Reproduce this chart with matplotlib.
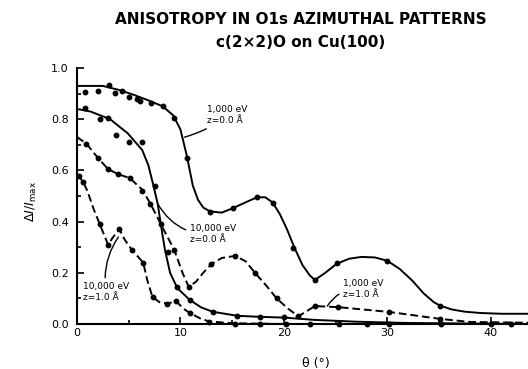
import matplotlib
matplotlib.use('Agg')
import matplotlib.pyplot as plt
from matplotlib.ticker import MultipleLocator, FormatStrFormatter


# 1,000 eV, z = 0.0 A : traced curve and measured points
a_curve_theta = [0, 2.5, 4, 5.5, 7, 8.3, 9.3, 10.0, 10.6, 11.2, 11.7, 12.2, 12.85, 14.0, 15.1, 16.4,
                 17.4, 18.2, 18.9, 19.6, 20.3, 21.0, 21.8, 22.5, 23.0, 24.0, 25.1, 26.3, 27.5, 28.8,
                 30.0, 31.2, 32.4, 33.5, 34.5, 35.1, 36.2, 37.5, 39.0, 41.0, 43.6]
a_curve_val = [0.93, 0.93, 0.915, 0.895, 0.872, 0.85, 0.815, 0.76, 0.66, 0.54, 0.485, 0.455, 0.44, 0.435,
               0.453, 0.477, 0.495, 0.495, 0.475, 0.43, 0.37, 0.30, 0.23, 0.19, 0.172, 0.20, 0.235, 0.255,
               0.262, 0.26, 0.247, 0.215, 0.17, 0.12, 0.085, 0.072, 0.057, 0.048, 0.043, 0.04, 0.04]
a_pts_theta = [0.8, 2.06, 3.1, 3.7, 4.35, 5.05, 5.8, 6.1, 7.2, 8.3, 9.4, 10.6, 12.85, 15.1, 17.4,
               18.9, 20.9, 23.0, 25.1, 30.0, 35.1]
a_pts_val = [0.905, 0.911, 0.934, 0.901, 0.912, 0.888, 0.88, 0.872, 0.864, 0.852, 0.803, 0.648, 0.4375,
             0.453, 0.496, 0.473, 0.297, 0.172, 0.238, 0.246, 0.07]

# 10,000 eV, z = 0.0 A
b_curve_theta = [0, 1.3, 3.2, 4.9, 6.3, 6.9, 7.3, 7.8, 8.1, 8.5, 9.0, 9.7, 10.9, 12.0, 13.1, 15.5,
                 17.7, 20.0, 23.0, 27.0, 32.0, 43.6]
b_curve_val = [0.84, 0.83, 0.80, 0.745, 0.68, 0.62, 0.555, 0.47, 0.39, 0.29, 0.20, 0.14, 0.094, 0.065,
               0.048, 0.032, 0.028, 0.025, 0.016, 0.009, 0.004, 0.0]
b_pts_theta = [0.8, 2.2, 3.0, 3.8, 5.0, 6.3, 7.5, 8.8, 9.7, 10.9, 13.1, 15.5, 17.7, 20.0]
b_pts_val = [0.845, 0.80, 0.805, 0.74, 0.71, 0.71, 0.54, 0.28, 0.145, 0.094, 0.047, 0.031, 0.027, 0.026]

# 1,000 eV, z = 1.0 A
c_curve_theta = [0, 0.9, 2.0, 3.0, 4.0, 5.1, 6.3, 7.1, 8.1, 9.4, 10.2, 10.8, 11.5, 12.2, 13.0, 14.0,
                 15.3, 16.3, 17.2, 18.3, 19.3, 20.4, 21.4, 22.2, 23.0, 25.2, 30.2, 35.1, 38.0, 43.6]
c_curve_val = [0.73, 0.705, 0.65, 0.605, 0.585, 0.57, 0.525, 0.47, 0.39, 0.29, 0.20, 0.145, 0.165, 0.20,
               0.234, 0.258, 0.266, 0.245, 0.20, 0.15, 0.10, 0.06, 0.03, 0.05, 0.07, 0.066, 0.047,
               0.02, 0.008, 0.005]
c_pts_theta = [0.9, 2.0, 3.0, 4.0, 5.1, 6.3, 7.1, 8.1, 9.4, 10.8, 13.0, 15.3, 17.2, 19.3, 21.4, 23.0,
               25.2, 30.2, 35.1]
c_pts_val = [0.705, 0.65, 0.605, 0.585, 0.57, 0.52, 0.47, 0.39, 0.29, 0.145, 0.234, 0.266, 0.20, 0.10,
             0.03, 0.07, 0.066, 0.047, 0.02]

# 10,000 eV, z = 1.0 A
d_curve_theta = [0, 0.6, 1.0, 1.6, 2.2, 3.0, 3.5, 4.1, 4.6, 5.3, 6.4, 6.8, 7.3, 8.0, 8.7, 9.6, 10.3,
                 10.9, 12.0, 12.8, 15.0, 20.0, 43.6]
d_curve_val = [0.585, 0.555, 0.52, 0.45, 0.39, 0.31, 0.34, 0.37, 0.33, 0.29, 0.24, 0.17, 0.105, 0.085,
               0.08, 0.088, 0.06, 0.043, 0.02, 0.01, 0.003, 0.0, 0.0]
d_pts_theta = [0.2, 0.6, 2.2, 3.0, 4.1, 5.3, 6.4, 7.3, 8.7, 9.6, 10.9, 12.8, 15.3, 17.7, 20.2, 22.5,
               25.3, 28.0, 30.2, 35.2, 40.0, 42.0]
d_pts_val = [0.58, 0.555, 0.39, 0.31, 0.37, 0.29, 0.24, 0.105, 0.08, 0.088, 0.043, 0.008, 0.0, 0.0,
             0.0, 0.0, 0.0, 0.0, 0.0, 0.0, 0.0, 0.0]

y_ticks = [0.0, 0.2, 0.4, 0.6, 0.8, 1.0]
x_ticks = [0, 10, 20, 30, 40]


def draw_curve(ax, ct, cv, pt, pv, ls):
    ax.plot(ct, cv, color='black', lw=1.4, ls=ls, clip_on=False)
    ax.plot(pt, pv, 'o', color='black', ms=3.2, clip_on=False)


def label(ax, text, xy, xytext, rad):
    ax.annotate(text, xy=xy, xytext=xytext, fontsize=6.5, ha='left', va='center',
                linespacing=1.3,
                arrowprops=dict(arrowstyle='-', lw=1.0, color='black',
                                connectionstyle='arc3,rad=%s' % rad, shrinkA=1, shrinkB=0))


def main():
    fig = plt.figure(figsize=(5.28, 3.69), dpi=100)
    ax = fig.add_axes([77 / 528, 45 / 369, 451 / 528, 256 / 369])

    draw_curve(ax, a_curve_theta, a_curve_val, a_pts_theta, a_pts_val, '-')
    draw_curve(ax, b_curve_theta, b_curve_val, b_pts_theta, b_pts_val, '-')
    draw_curve(ax, c_curve_theta, c_curve_val, c_pts_theta, c_pts_val, (0, (4, 2)))
    draw_curve(ax, d_curve_theta, d_curve_val, d_pts_theta, d_pts_val, (0, (4, 2)))

    label(ax, '1,000 eV\nz=0.0 Å', (10.4, 0.73), (12.6, 0.815), -0.1)
    label(ax, '10,000 eV\nz=0.0 Å', (7.8, 0.47), (10.9, 0.35), -0.3)
    label(ax, '10,000 eV\nz=1.0 Å', (4.0, 0.34), (0.6, 0.125), -0.2)
    label(ax, '1,000 eV\nz=1.0 Å', (24.2, 0.07), (25.7, 0.137), 0.3)

    ax.set_xlim(0, 43.6)
    ax.set_ylim(0, 1.0)
    ax.spines['top'].set_visible(False)
    ax.spines['right'].set_visible(False)
    for sp in ('left', 'bottom'):
        ax.spines[sp].set_linewidth(1.5)
    ax.set_xticks(x_ticks)
    ax.set_yticks(y_ticks)
    ax.yaxis.set_major_formatter(FormatStrFormatter('%.1f'))
    ax.xaxis.set_minor_locator(MultipleLocator(5))
    ax.yaxis.set_minor_locator(MultipleLocator(0.1))
    ax.tick_params(which='both', direction='in', width=1.2, labelsize=8)
    ax.tick_params(which='major', length=5)
    ax.tick_params(which='minor', length=3)
    ax.tick_params(axis='y', pad=6)
    ax.tick_params(axis='x', pad=3)

    ax.set_xlabel('θ (°)', fontsize=9)
    ax.xaxis.set_label_coords(0.53, -0.13)
    ax.set_ylabel(r'$\Delta I / I_{\rm max}$', fontsize=9)
    ax.yaxis.set_label_coords(-0.085, 0.48)

    fig.text(0.57, 0.946, 'ANISOTROPY IN O1s AZIMUTHAL PATTERNS', ha='center', va='center',
             fontsize=11, fontweight='bold')
    fig.text(0.57, 0.886, 'c(2×2)O on Cu(100)', ha='center', va='center', fontsize=11,
             fontweight='bold')

    fig.savefig('out.png', dpi=100)


if __name__ == "__main__":
    main()
